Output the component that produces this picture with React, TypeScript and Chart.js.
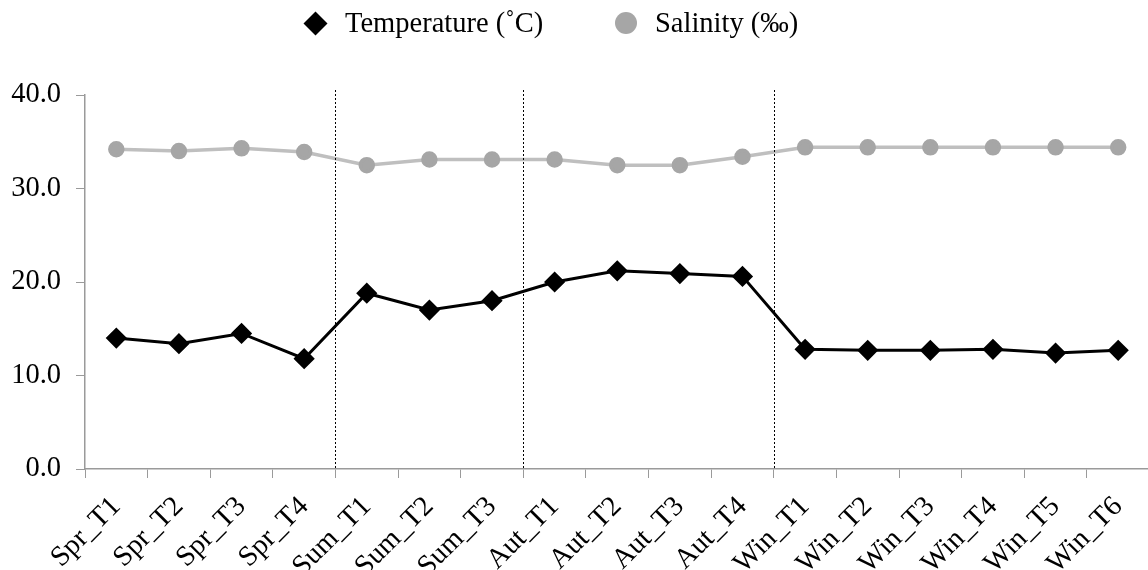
import React, { useEffect, useRef } from "react";
import { Chart, registerables } from "chart.js";

Chart.register(...registerables);

const categories = [
  "Spr_T1", "Spr_T2", "Spr_T3", "Spr_T4",
  "Sum_T1", "Sum_T2", "Sum_T3",
  "Aut_T1", "Aut_T2", "Aut_T3", "Aut_T4",
  "Win_T1", "Win_T2", "Win_T3", "Win_T4", "Win_T5", "Win_T6",
];
const temperature = [14.0, 13.4, 14.5, 11.8, 18.8, 17.0, 18.0, 20.0, 21.2, 20.9, 20.6, 12.8, 12.7, 12.7, 12.8, 12.4, 12.7];
const salinity = [34.2, 34.0, 34.3, 33.9, 32.5, 33.1, 33.1, 33.1, 32.5, 32.5, 33.4, 34.4, 34.4, 34.4, 34.4, 34.4, 34.4];
const seasonBoundaries = [3, 6, 10];
const yTicks = [0, 10, 20, 30, 40];

const FONT = "'Liberation Serif', 'Times New Roman', serif";
const FONT_SIZE = 28.5;
const AXIS_GRAY = "#9a9a9a";
const CANVAS_W = 1161;

const separatorPlugin = {
  id: "separators",
  afterDatasetsDraw(chart: any) {
    const { ctx, chartArea, scales } = chart;
    const x = scales.x;
    ctx.save();
    ctx.strokeStyle = "#000";
    ctx.lineWidth = 1;
    ctx.setLineDash([2, 2]);
    for (const i of seasonBoundaries) {
      const px = Math.round((x.getPixelForValue(i) + x.getPixelForValue(i + 1)) / 2) + 0.5;
      ctx.beginPath();
      ctx.moveTo(px, chartArea.top - 5);
      ctx.lineTo(px, chartArea.bottom);
      ctx.stroke();
    }
    ctx.restore();
  },
};

export default function App() {
  const ref = useRef<HTMLCanvasElement>(null);

  useEffect(() => {
    if (!ref.current) return;
    const chart = new Chart(ref.current, {
      type: "line",
      data: {
        labels: categories,
        datasets: [
          {
            label: "Salinity (‰)",
            data: salinity,
            borderColor: "#bfbfbf",
            backgroundColor: "#a6a6a6",
            pointBackgroundColor: "#a6a6a6",
            pointBorderColor: "#a6a6a6",
            borderWidth: 3.5,
            pointStyle: "circle",
            pointRadius: 6.5,
            tension: 0,
          },
          {
            label: "Temperature (˚C)",
            data: temperature,
            borderColor: "#000",
            backgroundColor: "#000",
            pointBackgroundColor: "#000",
            pointBorderColor: "#000",
            borderWidth: 3,
            pointStyle: "rectRot",
            pointRadius: 8.5,
            tension: 0,
          },
        ],
      },
      options: {
        responsive: false,
        animation: false,
        layout: { padding: { top: 95, right: 0, left: 0, bottom: 0 } },
        plugins: {
          legend: { display: false },
          tooltip: { enabled: false },
        },
        scales: {
          x: {
            type: "category",
            offset: true,
            grid: {
              offset: true,
              drawOnChartArea: false,
              color: AXIS_GRAY,
              tickLength: 9,
              tickColor: AXIS_GRAY,
            },
            border: { color: AXIS_GRAY, width: 1.5 },
            ticks: {
              autoSkip: false,
              minRotation: 45,
              maxRotation: 45,
              padding: 12,
              color: "#000",
              font: { family: FONT, size: FONT_SIZE },
            },
            afterFit(scale: any) {
              scale.height = 101;
            },
          },
          y: {
            min: 0,
            max: 40,
            afterBuildTicks(scale: any) {
              scale.ticks = yTicks.map((v) => ({ value: v }));
            },
            grid: {
              drawOnChartArea: false,
              color: AXIS_GRAY,
              tickLength: 9,
              tickColor: AXIS_GRAY,
            },
            border: { color: AXIS_GRAY, width: 1.5 },
            ticks: {
              padding: 15,
              color: "#000",
              font: { family: FONT, size: FONT_SIZE },
              callback: (v: any) => Number(v).toFixed(1),
            },
            afterFit(scale: any) {
              scale.width = 85;
            },
          },
        },
      },
      plugins: [separatorPlugin],
    });
    return () => chart.destroy();
  }, []);

  const legendText: React.CSSProperties = {
    position: "absolute",
    top: 4,
    fontFamily: FONT,
    fontSize: FONT_SIZE,
    lineHeight: "38px",
    color: "#000",
    whiteSpace: "nowrap",
  };

  return (
    <div style={{ position: "fixed", left: 0, top: 0, width: 1148, height: 570, background: "#fff", overflow: "hidden" }}>
      <canvas ref={ref} width={CANVAS_W} height={570} style={{ position: "absolute", left: 0, top: 0 }} />
      <div
        style={{
          position: "absolute",
          left: 315 - 8.5,
          top: 23.5 - 8.5,
          width: 17,
          height: 17,
          background: "#000",
          transform: "rotate(45deg)",
        }}
      />
      <div style={{ ...legendText, left: 345 }}>Temperature (˚C)</div>
      <div
        style={{
          position: "absolute",
          left: 626 - 11,
          top: 23 - 11,
          width: 22,
          height: 22,
          borderRadius: "50%",
          background: "#a6a6a6",
        }}
      />
      <div style={{ ...legendText, left: 655 }}>Salinity (‰)</div>
    </div>
  );
}
